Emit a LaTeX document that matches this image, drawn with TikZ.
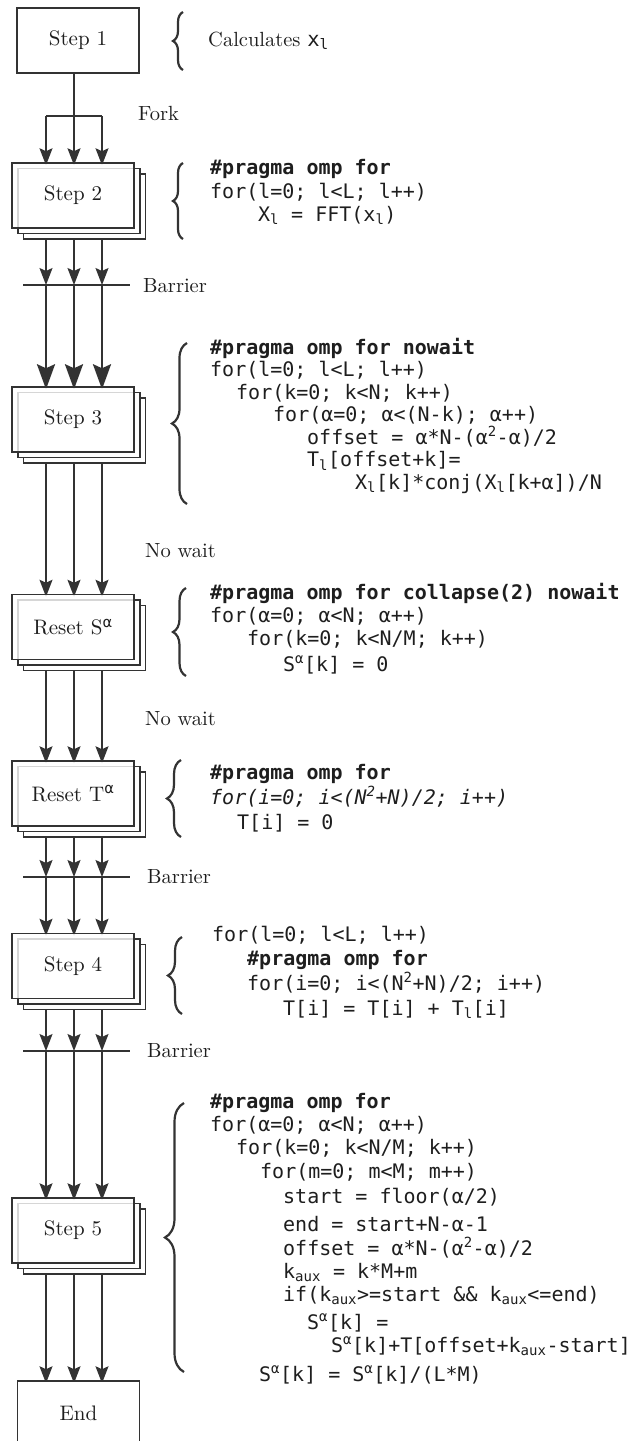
\documentclass[tikz,border=0pt]{standalone}
\usepackage{fontspec}
\setmonofont{DejaVu Sans Mono}
\newfontfamily\dvs{DejaVu Sans}
\newfontfamily\lmten{lmroman10-regular.otf}
\usetikzlibrary{arrows.meta,decorations.pathreplacing}
\definecolor{ink}{HTML}{333333}
\definecolor{txt}{HTML}{1E1E1E}
\pgfdeclarelayer{bg}
\pgfsetlayers{bg,main}
\tikzset{
  pbox/.style={draw=ink, line width=1.5pt, minimum width=122pt, minimum height=65pt,
    inner sep=0pt, fill=white, font=\lmten\fontsize{21}{24}\selectfont, text=txt},
  frontbox/.style={pbox, fill opacity=0.8, text opacity=1},
  code/.style={anchor=base west, inner sep=0pt, font=\ttfamily\fontsize{20}{24}\selectfont, text=txt},
  lbl/.style={anchor=base west, inner sep=0pt, font=\lmten\fontsize{20.5}{24}\selectfont, text=txt},
  plain/.style={draw=ink, line width=1.6pt},
  flow/.style={draw=ink, line width=1.6pt, -{Stealth[length=17pt,width=13pt,inset=3pt]}},
  bigflow/.style={draw=ink, line width=2.4pt, -{Stealth[length=25pt,width=18pt,inset=4pt]}},
  into/.style={shorten >=-3pt},
  barline/.style={draw=ink, line width=1.4pt},
  brc/.style={draw=ink, line width=2.2pt, decorate, decoration={brace, amplitude=#1}},
}
\newcommand\stackbox[3]{%
  \node[pbox] (#1c) at (84.5,#2+11) {};
  \node[pbox] (#1b) at (79,#2+5.5) {};
  \node[frontbox] (#1) at (73,#2) {#3};}
\begin{document}
\begin{tikzpicture}[x=1pt,y=-1pt]
\useasboundingbox (0,0) rectangle (639,1441);
\begin{pgfonlayer}{bg}
\fill[white] (0,0) rectangle (639,1441);
\end{pgfonlayer}
\clip (0,0) rectangle (639,1441);

% columns
\coordinate (L) at (46,0);
\coordinate (M) at (74,0);
\coordinate (R) at (102,0);

% boxes
\node[pbox] (s1) at (78,40.5) {Step 1};
\stackbox{s2}{195.5}{Step 2}
\stackbox{s3}{419.5}{Step 3}
\stackbox{rs}{627}{Reset S\textsuperscript{\dvs α}}
\stackbox{rt}{793.5}{Reset T\textsuperscript{\dvs α}}
\stackbox{s4}{966}{Step 4}
\stackbox{s5}{1230.5}{Step 5}
\node[pbox] (en) at (78.5,1413.5) {End};

% fork and barriers
\coordinate (fk) at (74,116);
\coordinate (b1w) at (23,285);  \coordinate (b1e) at (130,285);
\coordinate (b2w) at (23,877);  \coordinate (b2e) at (130,877);
\coordinate (b3w) at (23,1051); \coordinate (b3e) at (130,1051);
\draw[barline] (b1w) -- (b1e);
\draw[barline] (b2w) -- (b2e);
\draw[barline] (b3w) -- (b3e);

% labels
\node[lbl] (fork) at (138,120) {Fork};
\node[lbl] (bar1) at (143,292) {Barrier};
\node[lbl] (nw1) at (145,557) {No wait};
\node[lbl] (nw2) at (145,725) {No wait};
\node[lbl] (bar2) at (147,883) {Barrier};
\node[lbl] (bar3) at (147,1057) {Barrier};

% connectors
\begin{pgfonlayer}{bg}
\draw[plain] (s1.south -| M) -- (fk);
\draw[plain] (fk -| L) -- (fk -| R);
\foreach \c in {L,M,R} \draw[flow,into] (fk -| \c) -- (s2.north -| \c);
\draw[flow] (s2.south -| L) -- (b1w -| L);
\draw[flow] (s2b.south -| M) -- (b1w -| M);
\draw[flow] (s2c.south -| R) -- (b1w -| R);
\foreach \c in {L,M,R} \draw[bigflow,into] (b1w -| \c) -- (s3.north -| \c);
\draw[flow,into] (s3.south -| L) -- (rs.north -| L);
\draw[flow,into] (s3b.south -| M) -- (rs.north -| M);
\draw[flow,into] (s3c.south -| R) -- (rs.north -| R);
\draw[flow,into] (rs.south -| L) -- (rt.north -| L);
\draw[flow,into] (rsb.south -| M) -- (rt.north -| M);
\draw[flow,into] (rsc.south -| R) -- (rt.north -| R);
\draw[flow] (rt.south -| L) -- (b2w -| L);
\draw[flow] (rtb.south -| M) -- (b2w -| M);
\draw[flow] (rtc.south -| R) -- (b2w -| R);
\foreach \c in {L,M,R} \draw[flow,into] (b2w -| \c) -- (s4.north -| \c);
\draw[flow] (s4.south -| L) -- (b3w -| L);
\draw[flow] (s4b.south -| M) -- (b3w -| M);
\draw[flow] (s4c.south -| R) -- (b3w -| R);
\foreach \c in {L,M,R} \draw[flow,into] (b3w -| \c) -- (s5.north -| \c);
\draw[flow,into] (s5.south -| L) -- (en.north -| L);
\draw[flow,into] (s5b.south -| M) -- (en.north -| M);
\draw[flow,into] (s5c.south -| R) -- (en.north -| R);
\end{pgfonlayer}

% braces
\draw[brc=10pt] (183,70) -- (183,12);
\draw[brc=10pt] (183,239) -- (183,163);
\draw[brc=15pt] (187,504) -- (187,343);
\draw[brc=13pt] (186,676) -- (186,588);
\draw[brc=14pt] (181,837) -- (181,760);
\draw[brc=14pt] (182,1014) -- (182,937);
\draw[brc=19pt] (184,1372) -- (184,1103);

% Step 1 text
\node[lbl] (t1) at (208,46) {Calculates \texttt{x\textsubscript{l}}};

% Step 2 code
\node[code] (c2a) at (210,174) {\bfseries \#pragma omp for};
\node[code] (c2b) at (210,198) {for(l=0; l<L; l++)};
\node[code] (c2c) at (258,221) {X\textsubscript{l} = FFT(x\textsubscript{l})};

% Step 3 code
\node[code] (c3a) at (210,354) {\bfseries \#pragma omp for nowait};
\node[code] (c3b) at (210,376.5) {for(l=0; l<L; l++)};
\node[code] (c3c) at (236,399) {for(k=0; k<N; k++)};
\node[code] (c3d) at (273,421.5) {for(α=0; α<(N-k); α++)};
\node[code] (c3e) at (307,444) {offset = α*N-(α\textsuperscript{2}-α)/2};
\node[code] (c3f) at (307,466.5) {T\textsubscript{l}[offset+k]=};
\node[code] (c3g) at (355,489) {X\textsubscript{l}[k]*conj(X\textsubscript{l}[k+α])/N};

% Reset S code
\node[code] (cra) at (210,599) {\bfseries \#pragma omp for collapse(2) nowait};
\node[code] (crb) at (210,622) {for(α=0; α<N; α++)};
\node[code] (crc) at (247,645) {for(k=0; k<N/M; k++)};
\node[code] (crd) at (283,671) {S\textsuperscript{α}[k] = 0};

% Reset T code
\node[code] (cta) at (210,779) {\bfseries \#pragma omp for};
\node[code] (ctb) at (210,804) {\itshape for(i=0; i<(N\textsuperscript{2}+N)/2; i++)};
\node[code] (ctc) at (237,829) {T[i] = 0};

% Step 4 code
\node[code] (c4a) at (212,941) {for(l=0; l<L; l++)};
\node[code] (c4b) at (247,965) {\bfseries \#pragma omp for};
\node[code] (c4c) at (247,990) {for(i=0; i<(N\textsuperscript{2}+N)/2; i++)};
\node[code] (c4d) at (283,1015) {T[i] = T[i] + T\textsubscript{l}[i]};

% Step 5 code
\node[code] (c5a) at (210,1108) {\bfseries \#pragma omp for};
\node[code] (c5b) at (210,1131) {for(α=0; α<N; α++)};
\node[code] (c5c) at (236,1154) {for(k=0; k<N/M; k++)};
\node[code] (c5d) at (260,1178) {for(m=0; m<M; m++)};
\node[code] (c5e) at (283,1203) {start = floor(α/2)};
\node[code] (c5f) at (283,1231) {end = start+N-α-1};
\node[code] (c5g) at (283,1255) {offset = α*N-(α\textsuperscript{2}-α)/2};
\node[code] (c5h) at (283,1278) {k\textsubscript{aux} = k*M+m};
\node[code] (c5i) at (283,1301) {if(k\textsubscript{aux}>=start \&\& k\textsubscript{aux}<=end)};
\node[code] (c5j) at (307,1329) {S\textsuperscript{α}[k] =};
\node[code] (c5k) at (331,1352) {S\textsuperscript{α}[k]+T[offset+k\textsubscript{aux}-start]};
\node[code] (c5l) at (259,1381) {S\textsuperscript{α}[k] = S\textsuperscript{α}[k]/(L*M)};
\end{tikzpicture}
\end{document}
